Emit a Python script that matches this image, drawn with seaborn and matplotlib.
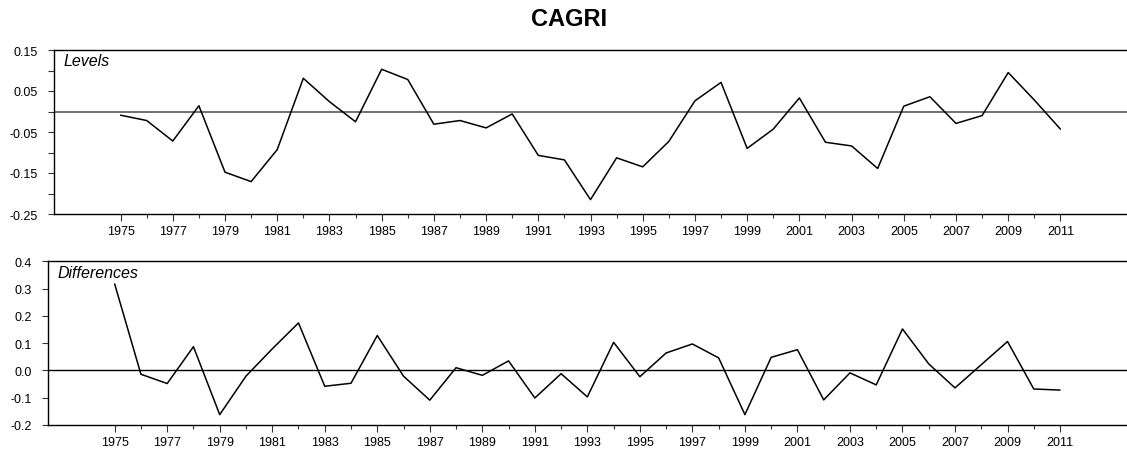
import numpy as np
import pandas as pd
import matplotlib
matplotlib.use("Agg")
import matplotlib.pyplot as plt
from matplotlib.ticker import FixedLocator
import seaborn as sns

# data
years = list(range(1975, 2012))
levels = [-0.009, -0.022, -0.072, 0.014, -0.148, -0.171, -0.093, 0.081, 0.024, -0.025,
          0.103, 0.078, -0.031, -0.022, -0.040, -0.006, -0.107, -0.118, -0.215, -0.113,
          -0.135, -0.073, 0.026, 0.071, -0.090, -0.043, 0.033, -0.075, -0.084, -0.139,
          0.013, 0.036, -0.029, -0.010, 0.095, 0.028, -0.043]
diffs = [0.317, -0.014, -0.048, 0.087, -0.162, -0.021, 0.079, 0.174, -0.058, -0.047,
         0.128, -0.021, -0.109, 0.010, -0.018, 0.035, -0.101, -0.012, -0.097, 0.103,
         -0.023, 0.064, 0.097, 0.046, -0.162, 0.048, 0.076, -0.108, -0.009, -0.053,
         0.152, 0.024, -0.064, 0.021, 0.106, -0.068, -0.072]

df = pd.DataFrame({"year": years, "levels": levels, "diffs": diffs})

sns.set_style("ticks")
plt.rcParams["font.family"] = ["Liberation Sans", "DejaVu Sans"]
plt.rcParams["text.color"] = "black"
plt.rcParams["xtick.color"] = "black"
plt.rcParams["ytick.color"] = "black"
plt.rcParams["axes.labelcolor"] = "black"

fig = plt.figure(figsize=(11.27, 4.52), dpi=100)
ax1 = fig.add_axes([54 / 1127, 1 - 215 / 452, 1 - 54 / 1127, 164 / 452])
ax2 = fig.add_axes([47.7 / 1127, 1 - 426 / 452, 1 - 47.7 / 1127, 163.7 / 452])

sns.lineplot(data=df, x="year", y="levels", ax=ax1, color="black", lw=1.1)
sns.lineplot(data=df, x="year", y="diffs", ax=ax2, color="black", lw=1.1)

ax1.axhline(0, color="#707070", lw=1.4, zorder=0)
ax2.axhline(0, color="black", lw=1.0, zorder=0)

# top panel y axis
yt1 = [0.15, 0.10, 0.05, 0.0, -0.05, -0.10, -0.15, -0.20, -0.25]
ax1.set_ylim(-0.25, 0.15)
ax1.set_yticks(yt1)
ax1.set_yticklabels([f"{v:.2f}" if i % 2 == 0 else "" for i, v in enumerate(yt1)])

# bottom panel y axis
yt2 = [0.4, 0.3, 0.2, 0.1, 0.0, -0.1, -0.2]
ax2.set_ylim(-0.2, 0.4)
ax2.set_yticks(yt2)
ax2.set_yticklabels([f"{v:.1f}" for v in yt2])

odd_years = [y for y in years if y % 2 == 1]
even_years = [y for y in years if y % 2 == 0]
for ax in (ax1, ax2):
    ax.set_xlim(1972.45, 2013.55)
    ax.set_xticks(odd_years)
    ax.set_xticklabels([str(y) for y in odd_years])
    ax.xaxis.set_minor_locator(FixedLocator(even_years))
    ax.set_xlabel("")
    ax.set_ylabel("")
    ax.spines["right"].set_visible(False)
    for s in ("top", "left", "bottom"):
        ax.spines[s].set_linewidth(1.0)
        ax.spines[s].set_color("black")
    ax.tick_params(axis="x", which="major", direction="out", length=5, width=0.8,
                   labelsize=9, pad=3, color="#333333", labelcolor="black")
    ax.tick_params(axis="x", which="minor", direction="out", length=3, width=0.8,
                   color="#333333")
    ax.tick_params(axis="y", direction="out", length=4.5, width=0.8, labelsize=9,
                   pad=7, color="#333333", labelcolor="black")

ax1.text(64 / 1127, 1 - 62 / 452, "Levels", transform=fig.transFigure,
         fontsize=11.5, style="italic", va="center", ha="left", color="black")
ax2.text(57 / 1127, 1 - 273 / 452, "Differences", transform=fig.transFigure,
         fontsize=11.5, style="italic", va="center", ha="left", color="black")
fig.text(569 / 1127, 1 - 19 / 452, "CAGRI", fontsize=17, fontweight="bold",
         ha="center", va="center", color="black")

fig.savefig("out.png", dpi=100)
